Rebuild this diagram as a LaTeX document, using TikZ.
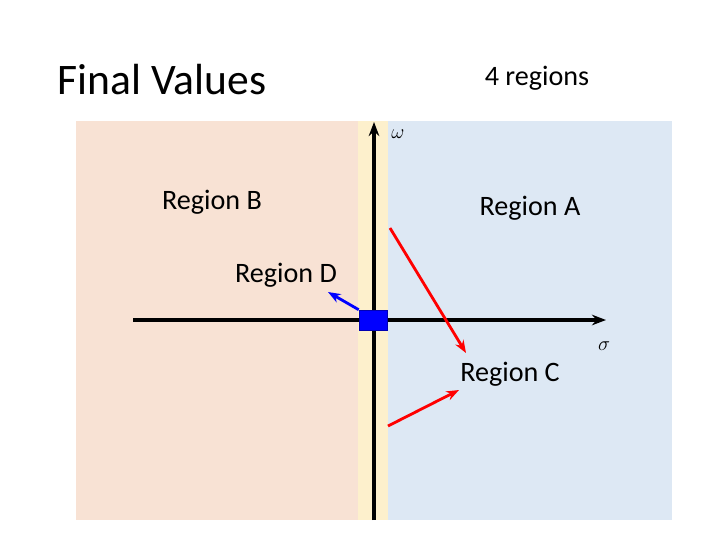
\documentclass[tikz,border=0pt]{standalone}
\usepackage{fontspec}
\setmainfont{Carlito}
\usetikzlibrary{arrows.meta}
\definecolor{peach}{HTML}{F8E2D4}
\definecolor{skyblue}{HTML}{DDE8F4}
\definecolor{strip}{HTML}{FDF0CC}
\begin{document}
\begin{tikzpicture}[x=0.025cm, y=-0.025cm]
    \tikzset{Label/.style={font=\fontsize{20}{22}\selectfont}};
    \tikzset{Pointer/.style={-{Stealth[length=9pt]}, line width=2pt}};
    \tikzset{Axis/.style={-{Stealth[length=10pt]}, line width=2.2pt}};
    \useasboundingbox (0,0) rectangle (720,540);

    % regions
    \fill[peach] (76,121) rectangle (360,520);
    \fill[skyblue] (388,121) rectangle (672,520);
    \fill[strip] (358,121) rectangle (388,520);

    % titles
    \node[font=\fontsize{31}{34}\selectfont] (title) at (162,80) {Final Values};
    \node[Label] (count) at (537,78) {4 regions};

    % axes
    \coordinate (ybot) at (374,520);
    \coordinate (ytop) at (374,122);
    \coordinate (xleft) at (133,320);
    \coordinate (xright) at (606,320);
    \draw[Axis] (ybot) -- (ytop);
    \draw[Axis] (xleft) -- (xright);
    \node[font=\Large] (omega) at (398,134) {$\omega$};
    \node[font=\Large] (sigma) at (604,346) {$\sigma$};

    % origin
    \node[draw=blue!70!black, fill=blue, inner sep=0pt,
          minimum width=0.7cm, minimum height=0.5cm] (origin) at (373,320) {};

    % labels
    \node[Label] (rb) at (212,202) {Region B};
    \node[Label] (ra) at (530,208) {Region A};
    \node[Label] (rd) at (286,275) {Region D};
    \node[Label] (rc) at (510,374) {Region C};

    % pointers
    \coordinate (a1) at (390,228);
    \coordinate (a2) at (466,353);
    \coordinate (c1) at (388,426);
    \coordinate (c2) at (459,390);
    \draw[Pointer, red] (a1) -- (a2);
    \draw[Pointer, red] (c1) -- (c2);
    \draw[Pointer, blue] (origin.north west) -- (328,292);
\end{tikzpicture}
\end{document}
